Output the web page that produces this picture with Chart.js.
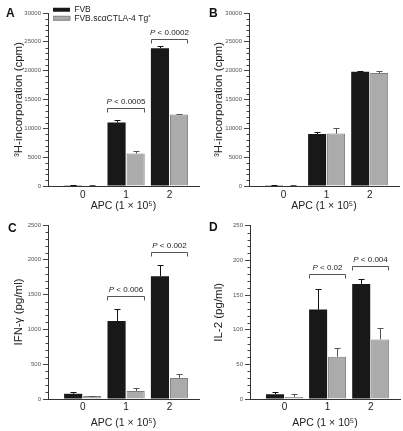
<!DOCTYPE html>
<html>
<head>
<meta charset="utf-8">
<script src="https://cdn.jsdelivr.net/npm/chart.js@4.4.1/dist/chart.umd.min.js"></script>
<style>
    html, body { margin: 0; padding: 0; background: #fff; }
    #figura { position: relative; width: 403px; height: 431px; }
    #figura canvas { position: absolute; }
</style>
</head>
<body>
<div id="figura">
    <canvas id="painelA" width="200" height="215" style="left:0;top:0"></canvas>
    <canvas id="painelB" width="203" height="215" style="left:200px;top:0"></canvas>
    <canvas id="painelC" width="200" height="216" style="left:0;top:215px"></canvas>
    <canvas id="painelD" width="203" height="216" style="left:200px;top:215px"></canvas>
</div>
<script>
// categorias do eixo x (APC x 10^5) e nomes das séries
const apcLabels  = ['0', '1', '2'];
const serieNomes = ['FVB', 'FVB.scαCTLA-4 Tg⁺'];

// A — 3H-incorporation (cpm)
const aFvb      = [130, 11000, 23900];
const aFvbErro  = [40, 400, 300];
const aTg       = [100, 5650, 12400];
const aTgErro   = [30, 400, 60];
const aPGrupos  = [1, 2];
const aPAltura  = [13500, 25500];
const aPTexto   = ['< 0.0005', '< 0.0002'];

// B — 3H-incorporation (cpm)
const bFvb      = [130, 9000, 19800];
const bFvbErro  = [30, 300, 100];
const bTg       = [90, 9100, 19600];
const bTgErro   = [30, 1000, 400];

// C — IFN-γ (pg/ml)
const cFvb      = [75, 1120, 1765];
const cFvbErro  = [20, 172, 160];
const cTg       = [42, 115, 302];
const cTgErro   = [6, 40, 52];
const cPGrupos  = [1, 2];
const cPAltura  = [1475, 2105];
const cPTexto   = ['< 0.006', '< 0.002'];

// D — IL-2 (pg/ml)
const dFvb      = [7, 129, 166];
const dFvbErro  = [3.5, 30, 7];
const dTg       = [3, 61, 86];
const dTgErro   = [4, 12, 16];
const dPGrupos  = [1, 2];
const dPAltura  = [180, 192];
const dPTexto   = ['< 0.02', '< 0.004'];

const FONTE = "'Liberation Sans', Arial, Helvetica, sans-serif";
Chart.defaults.font.family = FONTE;

// barras de erro (só para cima)
const pluginErros = {
    id: 'erros',
    afterDatasetsDraw(chart) {
        const ctx = chart.ctx;
        const y = chart.scales.y;
        chart.data.datasets.forEach((ds, di) => {
            const meta = chart.getDatasetMeta(di);
            meta.data.forEach((barra, i) => {
                const topo = Math.round(y.getPixelForValue(ds.data[i].y + ds.erros[i])) + 0.5;
                const x = Math.round(barra.x) + 0.5;
                ctx.save();
                ctx.strokeStyle = ds.corErro;
                ctx.lineWidth = 1;
                ctx.beginPath();
                ctx.moveTo(x, barra.y);
                ctx.lineTo(x, topo);
                ctx.moveTo(x - 3, topo);
                ctx.lineTo(x + 3, topo);
                ctx.stroke();
                ctx.restore();
            });
        });
    }
};

// colchetes com os valores de P
const pluginColchetes = {
    id: 'colchetes',
    afterDatasetsDraw(chart, args, opts) {
        if (!opts.grupos) return;
        const ctx = chart.ctx;
        const y = chart.scales.y;
        opts.grupos.forEach((g, i) => {
            const b0 = chart.getDatasetMeta(0).data[g];
            const b1 = chart.getDatasetMeta(1).data[g];
            const x0 = Math.round(b0.x - b0.width / 2) + 0.5;
            const x1 = Math.round(b1.x + b1.width / 2) - 0.5;
            const py = Math.round(y.getPixelForValue(opts.alturas[i])) + 0.5;
            ctx.save();
            ctx.strokeStyle = '#555';
            ctx.lineWidth = 1;
            ctx.beginPath();
            ctx.moveTo(x0, py + 4);
            ctx.lineTo(x0, py);
            ctx.lineTo(x1, py);
            ctx.lineTo(x1, py + 4);
            ctx.stroke();

            const fonteP = `italic 8px ${FONTE}`;
            const fonteR = `8px ${FONTE}`;
            ctx.font = fonteP;
            const wP = ctx.measureText('P ').width;
            ctx.font = fonteR;
            const wR = ctx.measureText(opts.textos[i]).width;
            let xt = (x0 + x1) / 2 - (wP + wR) / 2;
            ctx.fillStyle = '#222';
            ctx.textBaseline = 'alphabetic';
            ctx.textAlign = 'left';
            ctx.font = fonteP;
            ctx.fillText('P ', xt, py - 5);
            ctx.font = fonteR;
            ctx.fillText(opts.textos[i], xt + wP, py - 5);
            ctx.restore();
        });
    }
};

// traços menores do eixo y
const pluginTracos = {
    id: 'tracosMenores',
    afterDraw(chart) {
        const ctx = chart.ctx;
        const y = chart.scales.y;
        const passo = chart.options.scales.y.ticks.stepSize;
        const n = Math.round(y.max / passo) * 5;
        ctx.save();
        ctx.strokeStyle = '#444';
        ctx.lineWidth = 1;
        ctx.beginPath();
        for (let i = 1; i < n; i++) {
            if (i % 5 === 0) continue;
            const py = Math.round(y.getPixelForValue(i * passo / 5)) + 0.5;
            ctx.moveTo(y.right - 2.5, py);
            ctx.lineTo(y.right, py);
        }
        ctx.stroke();
        ctx.restore();
    }
};

// letra do painel + posição da legenda
const pluginLetra = {
    id: 'letra',
    afterLayout(chart, args, opts) {
        if (chart.options.plugins.legend.display) {
            chart.legend.left = chart.chartArea.left + 5;
            chart.legend.top = 5.5;
        }
    },
    afterDraw(chart, args, opts) {
        const ctx = chart.ctx;
        ctx.save();
        ctx.font = `bold 12px ${FONTE}`;
        ctx.fillStyle = '#111';
        ctx.textBaseline = 'alphabetic';
        ctx.fillText(opts.texto, opts.x, opts.y);
        ctx.restore();
    }
};

function criarPainel(id, cfg) {
    const canvas = document.getElementById(id);
    new Chart(canvas, {
        type: 'bar',
        data: {
            datasets: [
                {
                    label: serieNomes[0],
                    data: cfg.fvb.map((v, i) => ({ x: i, y: v })),
                    erros: cfg.fvbErro,
                    corErro: '#111',
                    backgroundColor: '#181818',
                    borderColor: '#181818',
                    borderWidth: 0,
                    categoryPercentage: 0.88,
                    barPercentage: 0.95,
                },
                {
                    label: serieNomes[1],
                    data: cfg.tg.map((v, i) => ({ x: i, y: v })),
                    erros: cfg.tgErro,
                    corErro: '#555',
                    backgroundColor: '#ababab',
                    borderColor: '#7e7e7e',
                    borderWidth: 1,
                    categoryPercentage: 0.88,
                    barPercentage: 0.95,
                }
            ]
        },
        options: {
            responsive: false,
            animation: false,
            layout: { padding: cfg.padding },
            plugins: {
                tooltip: { enabled: false },
                legend: {
                    display: !!cfg.legenda,
                    position: 'chartArea',
                    align: 'start',
                    labels: {
                        boxWidth: 17,
                        boxHeight: 4,
                        padding: 0,
                        color: '#222',
                        font: { size: 8.5 },
                    }
                },
                colchetes: { grupos: cfg.pGrupos, alturas: cfg.pAltura, textos: cfg.pTexto },
                letra: cfg.letra,
            },
            scales: {
                x: {
                    type: 'linear',
                    offset: false,
                    min: -0.8,
                    max: 2.68,
                    afterBuildTicks: (scale) => { scale.ticks = apcLabels.map((l, i) => ({ value: i })); },
                    afterFit: (scale) => { scale.height = cfg.alturaX; },
                    grid: { display: false, drawTicks: false },
                    border: { display: true, color: '#333', width: 1 },
                    ticks: {
                        callback: (v) => apcLabels[v],
                        color: '#222',
                        font: { size: 10 },
                        padding: cfg.padX,
                        maxRotation: 0,
                    },
                    title: {
                        display: true,
                        text: 'APC (1 × 10⁵)',
                        color: '#222',
                        font: { size: 10.5 },
                        padding: { top: 0, bottom: cfg.padTituloX },
                    }
                },
                y: {
                    min: 0,
                    max: cfg.yMax,
                    afterFit: (scale) => { scale.width = cfg.larguraY; },
                    grid: { display: true, drawOnChartArea: false, drawTicks: true, tickLength: 5, color: '#444' },
                    border: { display: true, color: '#333', width: 1 },
                    ticks: {
                        stepSize: cfg.yPasso,
                        callback: (v) => String(v),
                        color: '#555',
                        font: { size: 6 },
                        padding: 2,
                    },
                    title: {
                        display: true,
                        text: cfg.tituloY,
                        color: '#222',
                        font: { size: 11.5 },
                        padding: { top: 12, bottom: 0 },
                    }
                }
            }
        },
        plugins: [pluginErros, pluginColchetes, pluginTracos, pluginLetra]
    });
}

criarPainel('painelA', {
    fvb: aFvb, fvbErro: aFvbErro, tg: aTg, tgErro: aTgErro,
    pGrupos: aPGrupos, pAltura: aPAltura, pTexto: aPTexto,
    yMax: 30000, yPasso: 5000, tituloY: '³H-incorporation (cpm)',
    legenda: true, letra: { texto: 'A', x: 6, y: 17 },
    padding: { top: 13, right: 1, bottom: 0, left: 0 },
    larguraY: 48, alturaX: 29, padX: 3, padTituloX: 3,
});

criarPainel('painelB', {
    fvb: bFvb, fvbErro: bFvbErro, tg: bTg, tgErro: bTgErro,
    yMax: 30000, yPasso: 5000, tituloY: '³H-incorporation (cpm)',
    legenda: false, letra: { texto: 'B', x: 9, y: 17 },
    padding: { top: 13, right: 4, bottom: 0, left: 0 },
    larguraY: 49, alturaX: 29, padX: 3, padTituloX: 3,
});

criarPainel('painelC', {
    fvb: cFvb, fvbErro: cFvbErro, tg: cTg, tgErro: cTgErro,
    pGrupos: cPGrupos, pAltura: cPAltura, pTexto: cPTexto,
    yMax: 2500, yPasso: 500, tituloY: 'IFN-γ (pg/ml)',
    legenda: false, letra: { texto: 'C', x: 8, y: 17 },
    padding: { top: 10, right: 1, bottom: 0, left: 0 },
    larguraY: 48, alturaX: 32, padX: 2, padTituloX: 2,
});

criarPainel('painelD', {
    fvb: dFvb, fvbErro: dFvbErro, tg: dTg, tgErro: dTgErro,
    pGrupos: dPGrupos, pAltura: dPAltura, pTexto: dPTexto,
    yMax: 250, yPasso: 50, tituloY: 'IL-2 (pg/ml)',
    legenda: false, letra: { texto: 'D', x: 9, y: 16 },
    padding: { top: 10.7, right: 3, bottom: 0, left: 0 },
    larguraY: 50, alturaX: 32, padX: 2, padTituloX: 2,
});
</script>
</body>
</html>
